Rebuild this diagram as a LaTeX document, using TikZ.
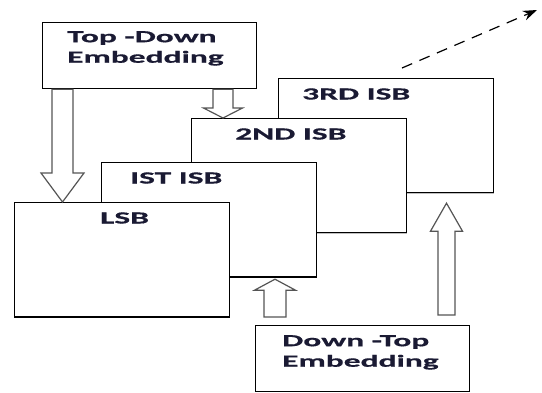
\documentclass[tikz,border=0pt]{standalone}
\usepackage{fontspec}
\newfontfamily\embfont[FakeStretch=1.97,FakeBold=0.6]{Carlito Bold}
\usetikzlibrary{calc,arrows.meta}
\definecolor{embtext}{HTML}{1A1A33}
\definecolor{embgray}{HTML}{555555}
% hollow block arrow: tail, tip, shaft half width, head half width, head length
\newcommand\embarrow[5]{%
	\coordinate (hb) at ($(#2)!#5!(#1)$);
	\draw[blockarr] ($(#1)+(-#3,0)$) -- ($(hb)+(-#3,0)$) -- ($(hb)+(-#4,0)$) -- (#2)
	-- ($(hb)+(#4,0)$) -- ($(hb)+(#3,0)$) -- ($(#1)+(#3,0)$) -- cycle;
}
\begin{document}
\begin{tikzpicture}[x=1pt,y=-1pt,line join=miter,>={Stealth[length=14pt,width=10pt]},
	isb/.style={draw,fill=white,line width=1.2pt,minimum width=215pt,minimum height=114pt,anchor=north west,inner sep=0pt},
	emb/.style={draw,fill=white,line width=1.2pt,minimum width=214pt,minimum height=66pt,anchor=north west,inner sep=0pt},
	lbl/.style={font=\embfont\fontsize{17}{20.5}\selectfont,text=embtext,inner sep=0pt},
	blockarr/.style={draw=embgray,fill=white,line width=1.2pt}]
	\useasboundingbox (0,0) rectangle (542,392);
	% the four layers, back to front
	\foreach \n/\x/\y/\t/\dx/\c in {b3/278/78/3RD ISB/24/black!25, b2/191/118/2ND ISB/44/black!25,
		ist/101/162/IST ISB/29/black, lsb/14/202/LSB/86/black}{
		\node[isb] (\n) at (\x,\y) {};
		\draw[line width=1.2pt,\c] (\n.south west) -- (\n.south east);
		\node[lbl,anchor=base west] (\n-t) at ($(\n.north west)+(\dx,21.5)$) {\t};
	}
	% embedding boxes
	\node[emb] (td) at (42,22) {};
	\node[lbl,align=left,anchor=north west] (td-t) at ($(td.north west)+(25,9)$) {Top -Down\\Embedding};
	\node[emb] (dt) at (255,325) {};
	\node[lbl,align=left,anchor=north west] (dt-t) at ($(dt.north west)+(27,10)$) {Down -Top\\Embedding};
	\path
	($(td.south west)+(20.5,0)$) coordinate (a1)
	(a1 |- lsb.north) coordinate (a1t)
	($(td.south west)+(181,0)$) coordinate (a2)
	(a2 |- b2.north) coordinate (a2t)
	($(dt.north west)+(20,-8)$) coordinate (a3)
	($(a3 |- ist.south)+(0,2)$) coordinate (a3t)
	($(dt.north west)+(191.5,-10)$) coordinate (a4)
	($(a4 |- b3.south)+(0,10)$) coordinate (a4t)
	($(b3.north west)+(124,-10)$) coordinate (d0)
	(537,10) coordinate (d1)
	;
	\embarrow{a1}{a1t}{10.5}{21.5}{29pt}
	\embarrow{a2}{a2t}{10}{19.5}{10pt}
	\embarrow{a3}{a3t}{11}{20.5}{11pt}
	\embarrow{a4}{a4t}{8.5}{16}{28pt}
	\draw[->,line width=1.2pt,dash pattern=on 11pt off 8pt] (d0) -- (d1);
\end{tikzpicture}
\end{document}
